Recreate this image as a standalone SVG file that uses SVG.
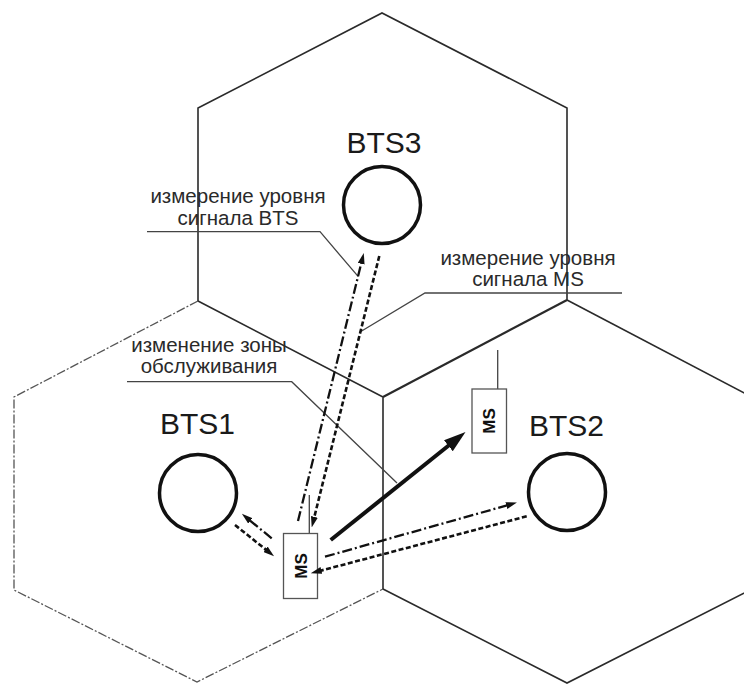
<svg xmlns="http://www.w3.org/2000/svg" width="744" height="684" viewBox="0 0 744 684">
<style>
.hex{fill:none;stroke:#2a2a2a;stroke-width:1.6;stroke-linejoin:miter}
.hexd{fill:none;stroke:#555;stroke-width:1.3;stroke-dasharray:9 2 2 2}
.bts{fill:none;stroke:#111;stroke-width:3.5}
.lbl{font-family:"Liberation Sans",Arial,sans-serif;font-size:20.5px;fill:#2a2a2a;text-anchor:middle}
.big{font-family:"Liberation Sans",Arial,sans-serif;font-size:30px;fill:#1a1a1a;text-anchor:middle}
.ms{font-family:"Liberation Sans",Arial,sans-serif;font-size:17px;font-weight:bold;fill:#111;text-anchor:middle}
.box{fill:#fff;stroke:#555;stroke-width:1.3}
.lead{fill:none;stroke:#444;stroke-width:1.3}
.dd{fill:none;stroke:#111;stroke-width:2.3;stroke-dasharray:10 3 2 3}
.ds{fill:none;stroke:#111;stroke-width:2.6;stroke-dasharray:5 2.5}
.thick{fill:none;stroke:#111;stroke-width:4}
</style>
<defs>
<marker id="ah" markerUnits="userSpaceOnUse" markerWidth="11" markerHeight="7" refX="4" refY="3.5" orient="auto">
<path d="M0,0 L11,3.5 L0,7 z" fill="#111"/>
</marker>
<marker id="ahb" markerUnits="userSpaceOnUse" markerWidth="22" markerHeight="14" refX="8" refY="7" orient="auto">
<path d="M0,0 L22,7 L0,14 z" fill="#111"/>
</marker>
</defs>
<rect width="744" height="684" fill="#fff"/>
<g id="cells">
<path class="hexd" d="M198,301 L14,397 L14,590 L197,682 L383,589"/>
<path class="hex" d="M198,301 L198,108 L382,13 L567,108 L567,300"/>
<path class="hex" d="M198,301 L383,397 L383,589"/>
<path class="hex" d="M383,397 L567,300" style="stroke-width:2.2"/>
<path class="hex" d="M567,300 L752,397"/>
<path class="hex" d="M383,589 L567,683 L752,589"/>
</g>
<g id="labels">
<path class="lead" d="M147,231.7 L320,231.7 L358.3,276.7"/>
<text class="lbl" x="238" y="203">измерение уровня</text>
<text class="lbl" x="238" y="225">сигнала BTS</text>
<path class="lead" d="M622,293 L425,293 L360,332"/>
<text class="lbl" x="528" y="265">измерение уровня</text>
<text class="lbl" x="528" y="286">сигнала MS</text>
<path class="lead" d="M127,381.7 L291.7,381.7 L397,483"/>
<text class="lbl" x="209" y="352">изменение зоны</text>
<text class="lbl" x="209" y="373">обслуживания</text>
</g>
<g id="bts3">
<circle class="bts" cx="382" cy="205" r="38.5"/>
<text class="big" x="384" y="153">BTS3</text>
</g>
<g id="bts1">
<circle class="bts" cx="198" cy="493" r="38.5"/>
<text class="big" x="197.5" y="434">BTS1</text>
</g>
<g id="bts2">
<circle class="bts" cx="567" cy="492" r="38.5"/>
<text class="big" x="566.5" y="436">BTS2</text>
</g>
<g id="ms1">
<line class="lead" x1="309.3" y1="495" x2="309.3" y2="533.5"/>
<rect class="box" x="283.5" y="533.5" width="34" height="65"/>
<text class="ms" transform="translate(306.8,566) rotate(-90)">MS</text>
</g>
<g id="ms2">
<line class="lead" x1="497.7" y1="350" x2="497.7" y2="389"/>
<rect class="box" x="472" y="389" width="34.5" height="64"/>
<text class="ms" transform="translate(495.3,421) rotate(-90)">MS</text>
</g>
<g id="connectors">
<line class="dd" x1="298" y1="521" x2="362.1" y2="259.8" marker-end="url(#ah)"/>
<line class="ds" x1="379.3" y1="256" x2="313.4" y2="520.7" marker-end="url(#ah)"/>
<line class="dd" x1="271.7" y1="538.3" x2="247.3" y2="518.3" marker-end="url(#ah)"/>
<line class="ds" x1="235" y1="525" x2="268.6" y2="551.8" marker-end="url(#ah)"/>
<line class="dd" x1="325" y1="556.7" x2="510.2" y2="504.5" marker-end="url(#ah)"/>
<line class="ds" x1="526.7" y1="516.3" x2="317.5" y2="571.5" marker-end="url(#ah)"/>
<line class="thick" x1="330.7" y1="540" x2="454.6" y2="440.8" marker-end="url(#ahb)"/>
</g>
</svg>
